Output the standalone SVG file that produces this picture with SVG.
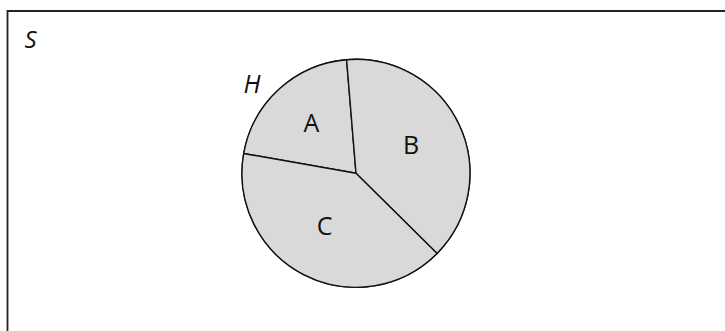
<svg xmlns="http://www.w3.org/2000/svg" width="725" height="331" viewBox="0 0 725 331">
<style>
.lbl{font-family:"Open Sans","Noto Sans","Liberation Sans",sans-serif;font-size:25px;fill:#111}
.it{font-style:italic}
.sec{fill:#d9d9d9;stroke:#111;stroke-width:1.4;stroke-linejoin:round}
</style>
<rect width="725" height="331" fill="#fff"/>
<g id="S">
<path d="M7.5,340 V11 H740" fill="none" stroke="#222" stroke-width="1.8"/>
<text class="lbl it" x="24.5" y="47.5" style="font-size:24px">S</text>
</g>
<g id="H">
<circle cx="356" cy="173.3" r="114" fill="#d9d9d9" stroke="#111" stroke-width="1.4"/>
<text class="lbl it" x="243.5" y="92.5">H</text>
</g>
<g id="A">
<path class="sec" d="M356,173.3 L243.7,153.5 A114,114 0 0 1 346.6,59.7 Z"/>
<text class="lbl" x="311.3" y="132.3" text-anchor="middle">A</text>
</g>
<g id="B">
<path class="sec" d="M356,173.3 L346.6,59.7 A114,114 0 0 1 437.1,253.4 Z"/>
<text class="lbl" x="411" y="154.3" text-anchor="middle">B</text>
</g>
<g id="C">
<path class="sec" d="M356,173.3 L437.1,253.4 A114,114 0 0 1 243.7,153.5 Z"/>
<text class="lbl" x="324.5" y="234.5" text-anchor="middle">C</text>
</g>
<g id="connectors"></g>
</svg>
